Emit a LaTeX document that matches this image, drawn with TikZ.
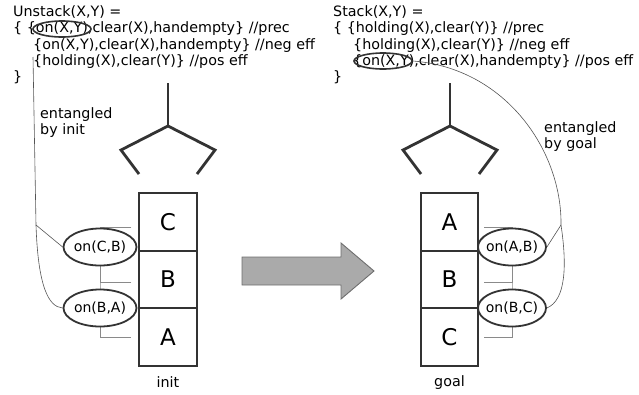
\documentclass[tikz,border=0pt]{standalone}
\usepackage{fontspec}
\setmainfont{DejaVu Sans}
\usetikzlibrary{shapes.geometric,positioning,backgrounds}

\definecolor{inkline}{HTML}{333333}
\definecolor{thinline}{HTML}{555555}
\definecolor{tickgray}{HTML}{8A8A8A}
\definecolor{arrowfill}{HTML}{AAAAAA}
\definecolor{arrowline}{HTML}{6E6E6E}

\tikzset{
	code/.style={anchor=base west, inner sep=0pt, font=\fontsize{14.3}{16}\selectfont},
	block/.style={draw=inkline, line width=1.8pt, minimum width=57.5pt, minimum height=57.5pt,
		inner sep=0pt, outer sep=0pt, font=\fontsize{23}{26}\selectfont},
	oval/.style={ellipse, draw=inkline, line width=1.8pt, fill=white, minimum height=37pt,
		inner xsep=-4pt, inner ysep=0pt, font=\fontsize{14}{16}\selectfont},
	ring/.style={ellipse, draw=inkline, line width=1.6pt, minimum width=58pt, minimum height=16pt, inner sep=0pt},
	grip/.style={draw=inkline, line width=2.8pt},
	link/.style={draw=thinline, line width=0.6pt},
	tick/.style={draw=tickgray, line width=0.9pt},
	bigarrow/.style={draw=arrowline, fill=arrowfill, line width=0.9pt, line join=miter},
}

\begin{document}
\begin{tikzpicture}[x=1pt,y=-1pt]
	\useasboundingbox (0,0) rectangle (639,394);

	% operator texts
	\node[code] (un1) at (13,16) {Unstack(X,Y) =};
	\node[code] (un2) at (13,32.5) {\{ \{on(X,Y),clear(X),handempty\} //prec};
	\node[code] (un3) at (33,49) {\{on(X,Y),clear(X),handempty\} //neg eff};
	\node[code] (un4) at (33,65) {\{holding(X),clear(Y)\} //pos eff};
	\node[code] (un5) at (13,81) {\}};

	\node[code] (st1) at (333,16) {Stack(X,Y) =};
	\node[code] (st2) at (333,32.5) {\{ \{holding(X),clear(Y)\} //prec};
	\node[code] (st3) at (353,49) {\{holding(X),clear(Y)\} //neg eff};
	\node[code] (st4) at (353,65) {\{on(X,Y),clear(X),handempty\} //pos eff};
	\node[code] (st5) at (333,81) {\}};

	\node[ring] (xy1) at (62,29) {};
	\node[ring] (xy2) at (383,61) {};

	\node[code] (ent1) at (40,118) {entangled};
	\node[code] (ent2) at (40,134) {by init};
	\node[code] (ent3) at (544,132) {entangled};
	\node[code] (ent4) at (544,148) {by goal};

	% grippers
	\foreach \gx in {168,450}{
		\draw[grip] (\gx,83) -- (\gx,126);
		\draw[grip] (\gx-29,174) -- (\gx-47,150) -- (\gx,126) -- (\gx+47,150) -- (\gx+29,174);
	}

	% stacks
	\node[block] (iC) at (168,222) {C};
	\node[block, below=0pt of iC] (iB) {B};
	\node[block, below=0pt of iB] (iA) {A};
	\node[code, anchor=base] (init) at (168,387) {init};

	\node[block] (gA) at (449.5,222) {A};
	\node[block, below=0pt of gA] (gB) {B};
	\node[block, below=0pt of gB] (gC) {C};
	\node[code, anchor=base] (goal) at (449.5,386) {goal};

	% facts
	\node[oval, minimum width=73pt] (cb) at (100,247) {on(C,B)};
	\node[oval, minimum width=73pt] (ba) at (100,308) {on(B,A)};
	\node[oval, minimum width=68pt] (ab) at (512,247) {on(A,B)};
	\node[oval, minimum width=68pt] (bc) at (512,308) {on(B,C)};

	\begin{scope}[on background layer]
		\draw[tick] ([xshift=-8pt,yshift=-5pt]iC.west) -| (cb.center) |- ([xshift=-8pt]iA.west);
		\draw[tick] ([xshift=-8pt,yshift=-3pt]iB.west) -| (cb.center);
		\draw[tick] ([xshift=6pt,yshift=-5pt]gA.east) -| (ab.center) |- ([xshift=6pt]gC.east);
		\draw[tick] ([xshift=6pt,yshift=-3pt]gB.east) -| (ab.center);
	\end{scope}

	% entanglement links
	\coordinate (lstart) at (33,57);
	\coordinate (lfork) at (36,225);
	\draw[link] (lstart) -- (lfork) -- (cb.west);
	\draw[link] (lfork) .. controls (38,285) and (48,307) .. (ba.west);

	\draw[link] (xy2.east) .. controls (505,68) and (562,150) .. (561,225) coordinate (rfork)
		.. controls (567,265) and (566,300) .. (bc.east);
	\draw[link] (rfork) -- (ab.east);

	% big arrow
	\draw[bigarrow] (242,257) -- (341,257) -- (341,243) -- (374,271) -- (341,299) -- (341,285) -- (242,285) -- cycle;
\end{tikzpicture}
\end{document}
